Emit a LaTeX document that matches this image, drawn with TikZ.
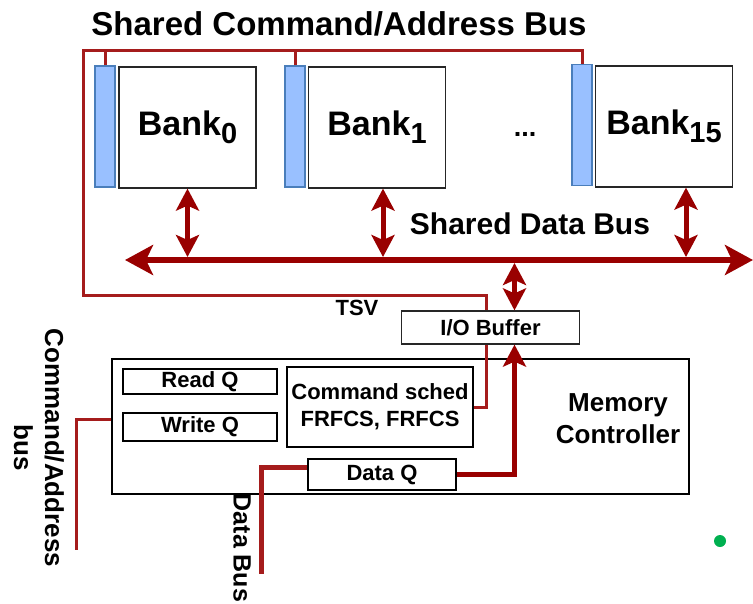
\documentclass[tikz,border=0pt]{standalone}
\usepackage{fontspec}
\setmainfont{Liberation Sans}
\usetikzlibrary{arrows.meta}

\definecolor{busred}{RGB}{153,0,0}
\definecolor{wirered}{RGB}{165,28,28}
\definecolor{barblue}{RGB}{153,192,255}
\definecolor{barline}{RGB}{74,126,187}
\definecolor{dotgreen}{RGB}{0,176,80}

\newcommand{\banksub}[1]{\raisebox{-8pt}{\fontsize{29}{30}\selectfont #1}}

\tikzset{
  bank/.style={draw=black!85, line width=1.2pt, fill=white, minimum width=137pt,
    minimum height=121pt, inner sep=0pt, font=\fontsize{34}{40}\selectfont\bfseries},
  cmdbar/.style={draw=barline, line width=1.2pt, fill=barblue, minimum width=20pt,
    minimum height=121pt, inner sep=0pt},
  qbox/.style={draw, line width=2.7pt, fill=white, inner sep=0pt,
    font=\fontsize{22}{27}\selectfont\bfseries},
  lbl/.style={font=\fontsize{22}{26}\selectfont\bfseries},
  wire/.style={wirered, line width=3pt},
  databus/.style={busred, line width=6pt, >={Stealth[length=28pt,width=30pt,inset=7pt]}, <->},
  bankarrow/.style={busred, line width=5pt, >={Stealth[length=22pt,width=23pt,inset=5pt]}, <->},
}

\begin{document}
\begin{tikzpicture}[x=1pt, y=-1pt]
\useasboundingbox (0,0) rectangle (753,603);

\node[font=\fontsize{33}{40}\selectfont\bfseries] (title) at (339,24) {Shared Command/Address Bus};

% banks with their command latches
\node[cmdbar] (bar0) at (105,126.5) {};
\node[bank] (bank0) at (187.5,127.5) {Bank\banksub{0}};
\node[cmdbar] (bar1) at (295,126.5) {};
\node[bank] (bank1) at (377,127.5) {Bank\banksub{1}};
\node[cmdbar] (bar15) at (582,125) {};
\node[bank] (bank15) at (664,126.5) {Bank\banksub{15}};
\node[font=\fontsize{27}{30}\selectfont\bfseries] (dots) at (525,134) {...};

\coordinate (ca-top) at (83,50);
\coordinate (tsv) at (486,295);
\coordinate (db-left) at (125,260);
\coordinate (db-right) at (753,260);
\coordinate (cabus-end) at (76,550);
\coordinate (dbus-end) at (261,574);

% memory controller
\node[draw, line width=2.7pt, minimum width=577pt, minimum height=135pt, inner sep=0pt] (mc) at (400.5,426.5) {};
\node[font=\fontsize{26}{32}\selectfont\bfseries, align=center] (mc-label) at (618,419) {Memory\\Controller};
\node[qbox, minimum width=154pt, minimum height=25pt] (readq) at (200,381.5) {Read Q};
\node[qbox, minimum width=154pt, minimum height=28pt] (writeq) at (200,427) {Write Q};
\node[qbox, minimum width=186pt, minimum height=80pt, align=center] (sched) at (380,407) {Command sched\\FRFCS, FRFCS};
\node[qbox, minimum width=148pt, minimum height=31pt] (dataq) at (382,474.5) {Data Q};

% command/address bus through the TSV
\draw[wire] (sched.east) -| (tsv) -| (ca-top) -| (bar15.north);
\draw[wire] (bar0.north) -- (bar0.north |- ca-top);
\draw[wire] (bar1.north) -- (bar1.north |- ca-top);

\node[draw=black!85, line width=1.2pt, fill=white, minimum width=178pt, minimum height=33pt, inner sep=0pt, lbl] (iobuf) at (490.5,327.5) {I/O Buffer};
\node[lbl] (tsv-label) at (357,308) {TSV};

% shared data bus
\draw[databus] (db-left) -- (db-right);
\node[font=\fontsize{30}{36}\selectfont\bfseries] (db-label) at (530,224) {Shared Data Bus};
\draw[bankarrow, shorten >=3pt] (bank0.south) -- (bank0.south |- db-left);
\draw[bankarrow, shorten >=3pt] ([xshift=6pt]bank1.south) -- ([xshift=6pt]bank1.south |- db-left);
\draw[bankarrow, shorten >=3pt] ([xshift=22pt]bank15.south) -- ([xshift=22pt]bank15.south |- db-left);
\draw[bankarrow, shorten >=3pt] ([xshift=24pt]iobuf.north) -- ([xshift=24pt]iobuf.north |- db-left);

\draw[busred, line width=5pt, -{Stealth[length=22pt,width=23pt,inset=5pt]}] (dataq.east) -| ([xshift=24pt]iobuf.south);

% off-chip buses
\draw[wirered, line width=5pt] ([yshift=7pt]dataq.west) -| (dbus-end);
\draw[wire] ([yshift=7pt]mc.west) -| (cabus-end);
\node[font=\fontsize{26}{31}\selectfont\bfseries, rotate=-90, align=center] (cabus-label) at (39,448) {Command/Address\\bus};
\node[font=\fontsize{25}{30}\selectfont\bfseries, rotate=-90] (dbus-label) at (242,548) {Data Bus};

\fill[dotgreen] (720,541) circle (6pt);
\end{tikzpicture}
\end{document}
